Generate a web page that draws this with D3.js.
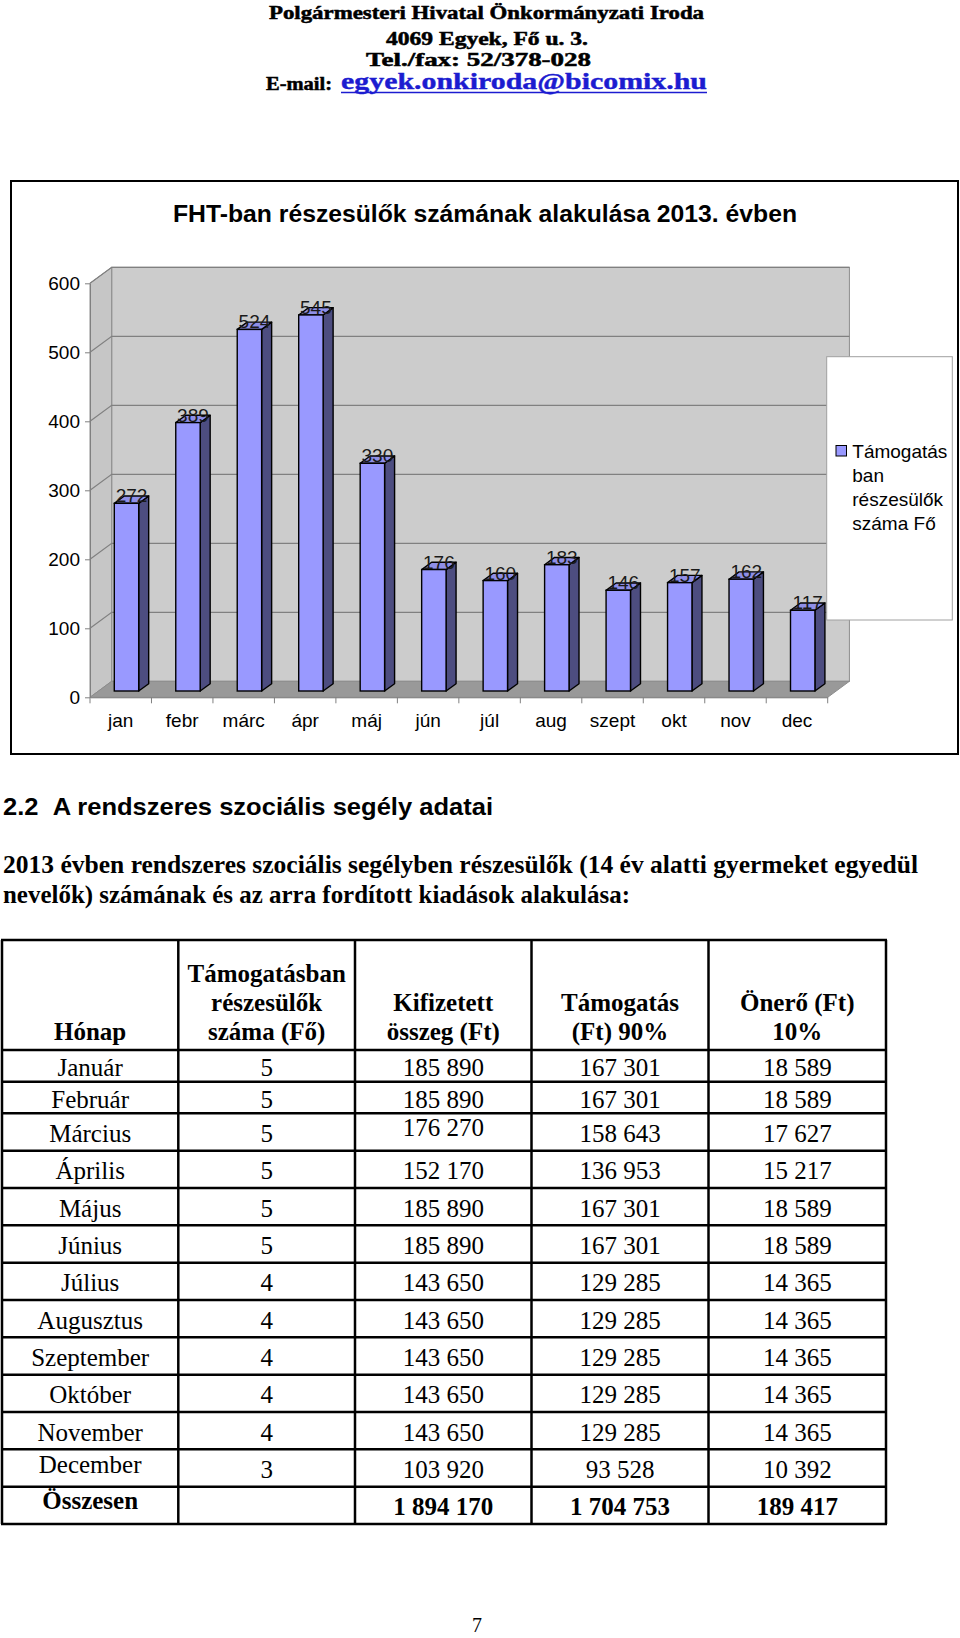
<!DOCTYPE html>
<html><head><meta charset="utf-8">
<script src="https://cdn.jsdelivr.net/npm/d3@7"></script>
<style>body{margin:0;background:#fff}svg{display:block}</style>
</head><body><svg id="page" width="960" height="1638"></svg>
<script>
// ---------------- DATA ----------------
const headerLines = ["Polgármesteri Hivatal Önkormányzati Iroda", "4069 Egyek, Fő u. 3.", "Tel./fax: 52/378-028"];
const emailLabel = "E-mail:";
const emailLink = "egyek.onkiroda@bicomix.hu";
const chartTitle = "FHT-ban részesülők számának alakulása 2013. évben";
const months = ["jan", "febr", "márc", "ápr", "máj", "jún", "júl", "aug", "szept", "okt", "nov", "dec"];
const values = [272, 389, 524, 545, 330, 176, 160, 183, 146, 157, 162, 117];
const yTicks = [0, 100, 200, 300, 400, 500, 600];
const legendLines = ["Támogatás", "ban", "részesülők", "száma Fő"];
const sectionHeading = "2.2\u00a0\u00a0A rendszeres szociális segély adatai";
const paragraphLines = ["2013 évben rendszeres szociális segélyben részesülők (14 év alatti gyermeket egyedül",
                        "nevelők) számának és az arra fordított kiadások alakulása:"];
const columnHeaders = [["Hónap"], ["Támogatásban", "részesülők", "száma (Fő)"], ["Kifizetett", "összeg (Ft)"], ["Támogatás", "(Ft) 90%"], ["Önerő (Ft)", "10%"]];
const tableMonths = ["Január", "Február", "Március", "Április", "Május", "Június", "Július", "Augusztus", "Szeptember", "Október", "November", "December"];
const recipients = [5, 5, 5, 5, 5, 5, 4, 4, 4, 4, 4, 3];
const paidAmounts = [185890, 185890, 176270, 152170, 185890, 185890, 143650, 143650, 143650, 143650, 143650, 103920];
const supportAmounts = [167301, 167301, 158643, 136953, 167301, 167301, 129285, 129285, 129285, 129285, 129285, 93528];
const ownAmounts = [18589, 18589, 17627, 15217, 18589, 18589, 14365, 14365, 14365, 14365, 14365, 10392];
const totalLabel = "Összesen";
const totals = [1894170, 1704753, 189417];
const pageNumber = "7";

// ---------------- DRAW ----------------
const svg = d3.select("#page");
const sans = "'Liberation Sans', Arial, sans-serif";
const serif = "'Liberation Serif', 'Times New Roman', serif";

// Letterhead
const hdrLayout = [{y: 18.5, x0: 269, x1: 704}, {y: 45, x0: 386, x1: 588}, {y: 66, x0: 366, x1: 591}];
svg.append("g").selectAll("text").data(headerLines).join("text")
  .attr("x", (d, i) => hdrLayout[i].x0).attr("y", (d, i) => hdrLayout[i].y)
  .attr("textLength", (d, i) => hdrLayout[i].x1 - hdrLayout[i].x0).attr("lengthAdjust", "spacingAndGlyphs")
  .attr("font-family", serif).attr("font-weight", "bold").attr("font-size", 18)
  .attr("stroke", "#000").attr("stroke-width", 0.5).text(d => d);
svg.append("text").attr("x", 266).attr("y", 90).attr("textLength", 66).attr("lengthAdjust", "spacingAndGlyphs")
  .attr("font-family", serif).attr("font-weight", "bold").attr("font-size", 18)
  .attr("stroke", "#000").attr("stroke-width", 0.5).text(emailLabel);
svg.append("text").attr("x", 341).attr("y", 89).attr("textLength", 366).attr("lengthAdjust", "spacingAndGlyphs")
  .attr("font-family", serif).attr("font-weight", "bold").attr("font-size", 23).attr("fill", "#1c1cd0")
  .attr("stroke", "#1c1cd0").attr("stroke-width", 0.4).text(emailLink);
svg.append("line").attr("x1", 341).attr("x2", 707).attr("y1", 92.5).attr("y2", 92.5).attr("stroke", "#1c1cd0").attr("stroke-width", 1.6);

// Chart
const X0 = 90, X1 = 827.7, Y0 = 697.3, Y1 = 283.3, DX = 21.7, DY = -16;
const x = d3.scaleBand().domain(months).range([X0, X1]).padding(0);
const y = d3.scaleLinear().domain([0, 600]).range([Y0, Y1]);
const ch = svg.append("g");
ch.append("rect").attr("x", 11).attr("y", 181).attr("width", 947).attr("height", 573)
  .attr("fill", "#fff").attr("stroke", "#000").attr("stroke-width", 2);
ch.append("text").attr("x", 173).attr("y", 222).attr("textLength", 624).attr("lengthAdjust", "spacingAndGlyphs")
  .attr("font-family", sans).attr("font-weight", "bold").attr("font-size", 23).text(chartTitle);

// walls
ch.append("rect").attr("x", X0 + DX).attr("y", y(600) + DY).attr("width", X1 - X0).attr("height", y(0) - y(600))
  .attr("fill", "#cccccc").attr("stroke", "#8c8c8c");
ch.append("path").attr("d", `M${X0},${y(0)}L${X0},${y(600)}L${X0 + DX},${y(600) + DY}L${X0 + DX},${y(0) + DY}Z`)
  .attr("fill", "#c6c6c6").attr("stroke", "#8c8c8c");
ch.append("path").attr("d", `M${X0},${Y0}L${X1},${Y0}L${X1 + DX},${Y0 + DY}L${X0 + DX},${Y0 + DY}Z`)
  .attr("fill", "#999999").attr("stroke", "#8c8c8c");
ch.append("g").selectAll("path").data(yTicks.filter(t => t > 0)).join("path")
  .attr("d", t => `M${X0},${y(t)}L${X0 + DX},${y(t) + DY}L${X1 + DX},${y(t) + DY}`)
  .attr("fill", "none").attr("stroke", "#808080").attr("stroke-width", 1.2);

// axes
const ya = ch.append("g").attr("transform", `translate(${X0},0)`)
  .call(d3.axisLeft(y).tickValues(yTicks).tickSize(5).tickPadding(5).tickSizeOuter(0));
ya.select(".domain").attr("stroke", "#808080");
ya.selectAll(".tick line").attr("stroke", "#808080");
ya.selectAll("text").attr("font-family", sans).attr("font-size", 19).attr("fill", "#000");

const xa = ch.append("g").attr("transform", `translate(0,${Y0})`)
  .call(d3.axisBottom(x).tickSize(0).tickPadding(16).tickSizeOuter(0));
xa.select(".domain").attr("stroke", "#808080");
xa.selectAll("text").attr("font-family", sans).attr("font-size", 19).attr("fill", "#000");
ch.append("g").selectAll("line").data(months.map(m => x(m)).concat([X1])).join("line")
  .attr("x1", d => d).attr("x2", d => d).attr("y1", Y0).attr("y2", Y0 + 6).attr("stroke", "#808080");

// bars
const bw = x.bandwidth();
const faceOff = bw * 0.395, faceW = bw * 0.397, bdx = 10, bdy = -7.3, lift = -6.3;
const bars = ch.append("g").selectAll("g").data(months.map((m, i) => ({m, v: values[i]}))).join("g");
bars.each(function(d) {
  const g = d3.select(this);
  const L = x(d.m) + faceOff, R = L + faceW, B = y(0) + lift, T = y(d.v) + lift;
  g.append("path").attr("d", `M${R},${T}L${R + bdx},${T + bdy}L${R + bdx},${B + bdy}L${R},${B}Z`)
    .attr("fill", "#4d4d80").attr("stroke", "#000").attr("stroke-width", 1.4).attr("stroke-linejoin", "round");
  g.append("path").attr("d", `M${L},${T}L${R},${T}L${R + bdx},${T + bdy}L${L + bdx},${T + bdy}Z`)
    .attr("fill", "#8f8fe8").attr("stroke", "#000").attr("stroke-width", 1.4).attr("stroke-linejoin", "round");
  g.append("rect").attr("x", L).attr("y", T).attr("width", faceW).attr("height", B - T)
    .attr("fill", "#9999ff").attr("stroke", "#000").attr("stroke-width", 1.4);
});
ch.append("g").selectAll("text").data(months.map((m, i) => ({m, v: values[i]}))).join("text")
  .attr("x", d => x(d.m) + faceOff + faceW / 2 + bdx / 2).attr("y", d => y(d.v) + lift - 1)
  .attr("text-anchor", "middle").attr("font-family", sans).attr("font-size", 19).attr("fill", "#1a1a1a")
  .text(d => d.v);

// legend
ch.append("rect").attr("x", 826.7).attr("y", 356.7).attr("width", 125.6).attr("height", 263.3)
  .attr("fill", "#fff").attr("stroke", "#a0a0a0");
ch.append("rect").attr("x", 836).attr("y", 445.5).attr("width", 10.5).attr("height", 10.5)
  .attr("fill", "#9999ff").attr("stroke", "#000");
ch.append("g").selectAll("text").data(legendLines).join("text")
  .attr("x", 852.3).attr("y", (d, i) => 457.5 + i * 24)
  .attr("font-family", sans).attr("font-size", 19).attr("fill", "#000").text(d => d);

// Section heading & paragraph
svg.append("text").attr("x", 3).attr("y", 815).attr("textLength", 490).attr("lengthAdjust", "spacingAndGlyphs")
  .attr("font-family", sans).attr("font-weight", "bold").attr("font-size", 24).text(sectionHeading);
const paraW = [915, 627];
svg.append("g").selectAll("text").data(paragraphLines).join("text")
  .attr("x", 3).attr("y", (d, i) => 873.3 + i * 30).attr("textLength", (d, i) => paraW[i]).attr("lengthAdjust", "spacingAndGlyphs")
  .attr("font-family", serif).attr("font-weight", "bold").attr("font-size", 24.5).text(d => d);

// Table
const fmt = d3.formatLocale({decimal: ",", thousands: " ", grouping: [3], currency: ["", ""]}).format(",d");
const colEdges = [2, 178.3, 355, 531.5, 708.5, 886];
const colMid = colEdges.slice(0, -1).map((c, i) => (c + colEdges[i + 1]) / 2);
const tableTop = 940, headBottom = 1050;
const rowHeights = [31.7, 31.6].concat(d3.range(11).map(() => 37.34));
const rowEdges = [headBottom];
rowHeights.forEach(h => rowEdges.push(rowEdges[rowEdges.length - 1] + h));
const tableBottom = rowEdges[rowEdges.length - 1];
const tg = svg.append("g");

// header cells
columnHeaders.forEach((lines, ci) => {
  tg.append("g").selectAll("text").data(lines).join("text")
    .attr("x", colMid[ci]).attr("y", (d, li) => 1040 - (lines.length - 1 - li) * 29)
    .attr("text-anchor", "middle").attr("font-family", serif).attr("font-weight", "bold").attr("font-size", 25)
    .text(d => d);
});

// body rows
const rows = tableMonths.map((m, i) => [m, String(recipients[i]), fmt(paidAmounts[i]), fmt(supportAmounts[i]), fmt(ownAmounts[i])]);
rows.push([totalLabel, "", fmt(totals[0]), fmt(totals[1]), fmt(totals[2])]);
const shift = (ri, ci) => {
  if (ri === 2 && ci === 2) return -5.5;
  if (ri === 11 && ci === 0) return -5;
  if (ri === 12 && ci === 0) return -6.5;
  return 0;
};
rows.forEach((r, ri) => {
  const mid = (rowEdges[ri] + rowEdges[ri + 1]) / 2;
  tg.append("g").selectAll("text").data(r).join("text")
    .attr("x", (d, ci) => colMid[ci]).attr("y", (d, ci) => mid + 10 + shift(ri, ci))
    .attr("text-anchor", "middle").attr("font-family", serif).attr("font-size", 25)
    .attr("font-weight", ri === rows.length - 1 ? "bold" : "normal")
    .text(d => d);
});

// grid lines
tg.append("g").selectAll("line").data([tableTop].concat(rowEdges)).join("line")
  .attr("x1", colEdges[0] - 1).attr("x2", colEdges[colEdges.length - 1] + 1).attr("y1", d => d).attr("y2", d => d)
  .attr("stroke", "#000").attr("stroke-width", 2.5);
tg.append("g").selectAll("line").data(colEdges).join("line")
  .attr("x1", d => d).attr("x2", d => d).attr("y1", tableTop).attr("y2", tableBottom)
  .attr("stroke", "#000").attr("stroke-width", 2.5);

// page number
svg.append("text").attr("x", 477).attr("y", 1632).attr("text-anchor", "middle")
  .attr("font-family", serif).attr("font-size", 20).text(pageNumber);
</script>
</body></html>
